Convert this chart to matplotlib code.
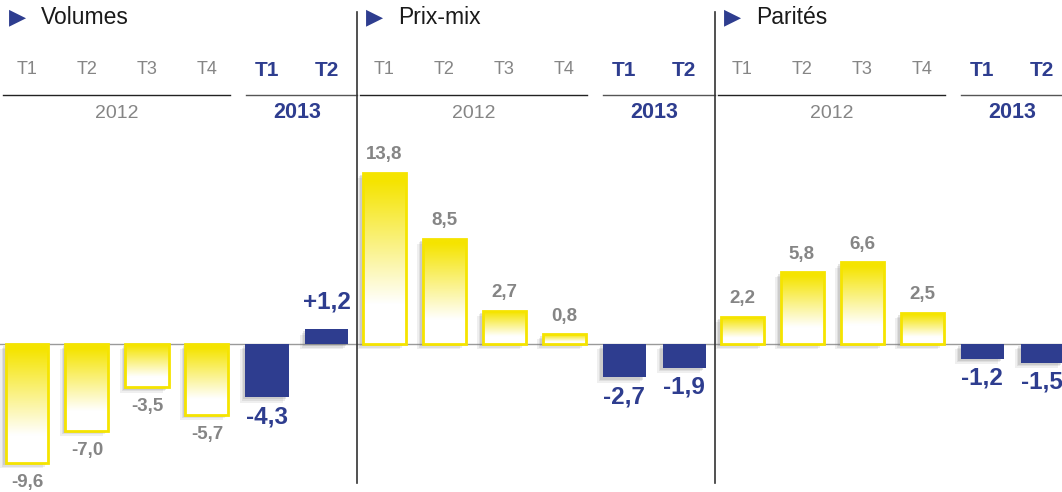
import numpy as np
import matplotlib.pyplot as plt
import matplotlib.transforms as mtransforms
from matplotlib.colors import LinearSegmentedColormap

plt.rcParams['font.family'] = ['Liberation Sans', 'DejaVu Sans']

# data
panels = ['Volumes', 'Prix-mix', 'Parités']
quarters = ['T1', 'T2', 'T3', 'T4', 'T1', 'T2']
years = ['2012', '2013']
volumes = [-9.6, -7.0, -3.5, -5.7, -4.3, 1.2]
prix_mix = [13.8, 8.5, 2.7, 0.8, -2.7, -1.9]
parites = [2.2, 5.8, 6.6, 2.5, -1.2, -1.5]
values = [volumes, prix_mix, parites]

navy = '#2E3D8F'
yellow = '#F5E400'
grey_txt = '#858585'

W, H = 1062, 492
pitch = 60.0      # px per bar slot
ppu = 12.4        # px per unit
zero_px = 344.0

fig = plt.figure(figsize=(W / 100, H / 100), dpi=100)

cmap = LinearSegmentedColormap.from_list('yw', ['white', yellow])
f = np.linspace(0, 1, 256)
grad = np.clip(1 - (f - 0.05) / 0.72, 0, 1)[:, None]

lefts = [0, 357, 715]
rights = [357, 715, W]

def ypx(p):
    # pixel row from the top -> axes fraction
    return 1 - p / H

for p in range(3):
    wpx = rights[p] - lefts[p]
    ax = fig.add_axes([lefts[p] / W, 0, wpx / W, 1])
    x0 = -27 / pitch
    ax.set_xlim(x0, x0 + wpx / pitch)
    ax.axis('off')
    tr = mtransforms.blended_transform_factory(ax.transData, ax.transAxes)

    vals = values[p]
    bw = 43 / pitch

    # zero line
    ax.axhline(0, color='#9a9a9a', lw=1, zorder=1)

    for i, v in enumerate(vals):
        lo, hi = min(0, v), max(0, v)
        # soft shadow
        for k, a in [(0.09, 0.12), (0.06, 0.15), (0.035, 0.2)]:
            ax.add_patch(plt.Rectangle((i - bw / 2 - k, lo - k * pitch / ppu),
                                       bw, hi - lo, color='#808080', alpha=a,
                                       lw=0, zorder=2))
        if i < 4:
            b = ax.bar(i, v, width=bw, facecolor='none', edgecolor=yellow,
                       lw=2.0, zorder=4)[0]
            im = ax.imshow(grad, cmap=cmap, vmin=0, vmax=1, aspect='auto',
                           extent=[i - bw / 2, i + bw / 2, lo, hi],
                           origin='upper', zorder=3)
            im.set_clip_path(b)
            txt = f"{v:.1f}".replace('.', ',')
            off = 13 if v > 0 else -14
            ax.annotate(txt, (i, v), xytext=(0, off), textcoords='offset points',
                        ha='center', va='center', fontsize=13.5,
                        fontweight='bold', color=grey_txt, zorder=5)
        else:
            ax.bar(i, v, width=bw, color=navy, lw=0, zorder=4)
            txt = f"{v:+.1f}".replace('.', ',') if v > 0 else f"{v:.1f}".replace('.', ',')
            off = 19.5 if v > 0 else -14
            ax.annotate(txt, (i, v), xytext=(0, off), textcoords='offset points',
                        ha='center', va='center', fontsize=17.5,
                        fontweight='bold', color=navy, zorder=5)

    ax.set_ylim(-(H - zero_px) / ppu, zero_px / ppu)

    # header
    ax.text(x0 + 9 / pitch, ypx(17), '\u25B6', transform=tr, color=navy,
            fontsize=16, ha='left', va='center', family='DejaVu Sans')
    ax.text(x0 + 41 / pitch, ypx(17), panels[p], transform=tr, color='#1a1a1a',
            fontsize=16.5, ha='left', va='center')
    for i, q in enumerate(quarters):
        if i < 4:
            ax.text(i, ypx(70), q, transform=tr, color=grey_txt, fontsize=13,
                    ha='center', va='center')
        else:
            ax.text(i, ypx(70), q, transform=tr, color=navy, fontsize=15,
                    fontweight='bold', ha='center', va='center')
    ax.plot([x0 + 3 / pitch, 3.38], [ypx(95), ypx(95)], transform=tr,
            color='#222222', lw=1, clip_on=False)
    ax.plot([3.65, ax.get_xlim()[1]], [ypx(95), ypx(95)], transform=tr,
            color='#555555', lw=1, clip_on=False)
    ax.text(1.5, ypx(113), years[0], transform=tr, color=grey_txt,
            fontsize=14, ha='center', va='center')
    ax.text(4.5, ypx(113), years[1], transform=tr, color=navy, fontsize=15.5,
            fontweight='bold', ha='center', va='center')

    if p > 0:
        ax.plot([x0, x0], [ypx(12), ypx(483)], transform=tr, color='#333333',
                lw=1.2, clip_on=False, zorder=6)

fig.savefig('out.png', dpi=100)
